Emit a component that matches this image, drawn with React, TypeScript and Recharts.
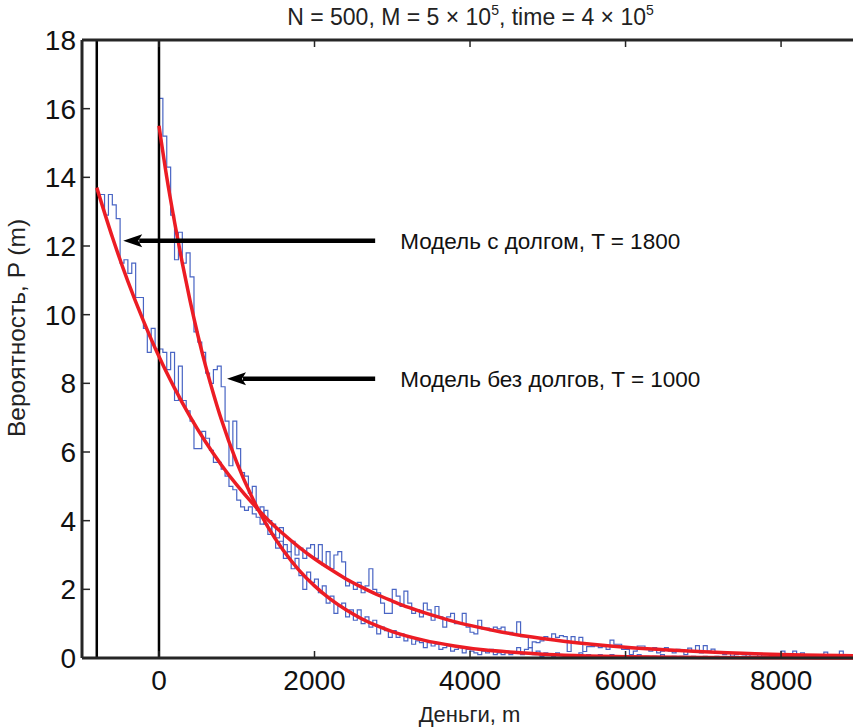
import React from "react";
import { ComposedChart, Line, XAxis, YAxis, ReferenceLine } from "recharts";

const WIDTH = 853;
const HEIGHT = 728;
const FONT = '"Liberation Sans", Arial, Helvetica, sans-serif';
const FRAME = "#262626";
const HIST_COLOR = "#4965c4";
const FIT_COLOR = "#ec1c24";

const X_TICKS = [0, 2000, 4000, 6000, 8000];
const Y_TICKS = [0, 2, 4, 6, 8, 10, 12, 14, 16, 18];

// histogram bins, 50 wide
const BIN_WIDTH = 50;
const DEBT_START = -800;
const FREE_START = 0;

// with debt (starts at -800)
const HIST_DEBT = [
  13.5, 13.5, 12.9, 13.5, 13.2, 12.8, 11.5, 11.6, 11.2, 11.5, 10.5, 10.5, 9.6, 8.9, 9.6, 9.0, 9.0, 8.9, 8.4, 8.9,
  7.5, 8.5, 7.5, 7.2, 6.9, 6.1, 6.1, 6.6, 6.4, 6.05, 5.7, 5.7, 5.5, 5.3, 5.0, 4.9, 4.6, 4.4, 4.3, 4.4,
  4.2, 4.1, 3.9, 4.3, 4.0, 3.6, 3.5, 3.8, 3.3, 3.1, 3.4, 3.0, 3.2, 2.9, 3.2, 3.3, 2.9, 3.3, 2.7, 3.1,
  2.6, 3.0, 3.1, 2.8, 2.1, 2.2, 2.0, 2.2, 1.9, 2.1, 2.6, 2.0, 1.9, 1.6, 1.3, 1.3, 2.0, 1.8, 1.5, 1.95,
  1.6, 1.3, 1.4, 1.2, 1.6, 1.4, 1.1, 1.5, 1.2, 0.9, 1.2, 1.3, 1.0, 1.0, 1.3, 0.9, 0.75, 0.7, 1.1, 0.85,
  0.87, 0.8, 0.9, 0.85, 0.9, 0.72, 0.75, 0.7, 1.05, 0.62, 0.62, 0.3, 0.47, 0.45, 0.5, 0.62, 0.55, 0.7, 0.6, 0.65,
  0.62, 0.19, 0.62, 0.45, 0.6, 0.19, 0.33, 0.33, 0.35, 0.3, 0.33, 0.25, 0.52, 0.4, 0.4, 0.25, 0.25, 0.1, 0.2, 0.35,
  0.35, 0.25, 0.2, 0.3, 0.15, 0.2, 0.3, 0.2, 0.15, 0.25, 0.2, 0.1, 0.29, 0.2, 0.36, 0.15, 0.36, 0.2, 0.26, 0.15,
  0.15, 0.1, 0.15, 0.05, 0.1, 0.15, 0.1, 0.05, 0.1, 0.1, 0.05, 0.1, 0.1, 0.05, 0.1, 0.08, 0.2, 0.1, 0.05, 0.2,
  0.1, 0.15, 0.05, 0.1, 0.05, 0.1, 0.08, 0.17, 0.05, 0.1, 0.05, 0.2, 0.1, 0.05, 0.1, 0.05,
];

// without debt (starts at 0)
const HIST_FREE = [
  16.3, 15.2, 14.3, 12.9, 11.6, 12.4, 11.5, 11.8, 11.1, 9.5, 9.2, 8.9, 8.3, 8.0, 8.4, 8.5, 7.9, 6.9, 5.6, 6.9,
  6.1, 5.4, 5.3, 4.8, 5.0, 4.3, 4.4, 3.9, 3.6, 3.9, 3.2, 3.4, 2.9, 3.1, 2.6, 2.9, 2.4, 2.0, 2.5, 2.2,
  2.3, 1.9, 2.1, 1.6, 1.8, 1.3, 1.5, 1.6, 1.2, 1.4, 1.1, 1.4, 1.0, 1.2, 0.9, 1.1, 0.7, 0.9, 0.8, 0.6,
  0.8, 0.6, 0.7, 0.5, 0.6, 0.4, 0.5, 0.45, 0.3, 0.45, 0.35, 0.4, 0.25, 0.3, 0.35, 0.2, 0.25, 0.3, 0.15, 0.25,
  0.2, 0.15, 0.1, 0.2, 0.15, 0.25, 0.1, 0.15, 0.1, 0.2, 0.1, 0.15, 0.3, 0.1, 0.25, 0.3, 0.1, 0.2, 0.05, 0.15,
  0.1, 0.05, 0.15, 0.1, 0.0, 0.1, 0.05, 0.1, 0.15, 0.05, 0.1, 0.0, 0.05, 0.1, 0.05, 0.0, 0.1, 0.05, 0.0, 0.05,
  0.05, 0.0, 0.05, 0.1, 0.0, 0.05, 0.0, 0.05, 0.0, 0.1, 0.0, 0.0, 0.05, 0.0, 0.05, 0.0, 0.0, 0.05, 0.0, 0.0,
  0.05, 0.0, 0.0, 0.05, 0.0, 0.0, 0.0, 0.05, 0.0, 0.0, 0.05, 0.0, 0.0, 0.0, 0.0, 0.05, 0.0, 0.0, 0.0, 0.0,
  0.0, 0.05, 0.0, 0.0, 0.0, 0.0, 0.0, 0.05, 0.0, 0.0, 0.0, 0.0, 0.0, 0.05, 0.0, 0.0, 0.0, 0.0, 0.0, 0.0,
];

// fitted curves
const FIT_DEBT_M = [
  -800, -600, -400, -200, 0, 200, 400, 600, 800, 1000, 1200, 1400, 1600, 1800, 2000, 2200, 2400, 2600,
  2800, 3000, 3200, 3400, 3600, 3800, 4000, 4400, 4800, 5200, 5600, 6000, 6500, 7000, 7500, 8000, 8500, 9000,
];
const FIT_DEBT_P = [
  13.7, 12.26, 10.97, 9.82, 8.78, 7.86, 7.03, 6.29, 5.63, 5.04, 4.51, 4.03, 3.61, 3.23, 2.89, 2.59, 2.31, 2.07,
  1.85, 1.66, 1.48, 1.33, 1.19, 1.06, 0.95, 0.76, 0.61, 0.49, 0.39, 0.31, 0.24, 0.18, 0.14, 0.1, 0.08, 0.06,
];
const FIT_FREE_M = [
  0, 100, 200, 300, 400, 500, 600, 700, 800, 1000, 1200, 1400, 1600, 1800, 2000, 2200, 2400, 2600, 2800, 3000,
  3400, 3800, 4200, 4600, 5000, 5500, 6000, 7000, 8000, 9000,
];
const FIT_FREE_P = [
  15.5, 14.0, 12.7, 11.5, 10.4, 9.4, 8.5, 7.7, 6.96, 5.7, 4.67, 3.82, 3.13, 2.56, 2.1, 1.72, 1.41, 1.15, 0.94, 0.77,
  0.52, 0.35, 0.23, 0.16, 0.1, 0.06, 0.04, 0.014, 0.005, 0.002,
];

// vertical walls: debt limit and zero
const WALLS = [-800, 0];

// arrows with labels
const ARROW_LABELS = ["Модель с долгом, T = 1800", "Модель без долгов, T = 1000"];
const ARROW_TAIL_M = [2780, 2780];
const ARROW_HEAD_M = [-460, 875];
const ARROW_P = [12.15, 8.13];

const toSteps = (start: number, values: number[]) => {
  const rows = values.map((p, i) => ({ m: start + i * BIN_WIDTH, p }));
  rows.push({ m: start + values.length * BIN_WIDTH, p: values[values.length - 1] });
  return rows;
};
const toRows = (ms: number[], ps: number[]) => ms.map((m, i) => ({ m, p: ps[i] }));

const debtSteps = toSteps(DEBT_START, HIST_DEBT);
const freeSteps = toSteps(FREE_START, HIST_FREE);
const debtFit = toRows(FIT_DEBT_M, FIT_DEBT_P);
const freeFit = toRows(FIT_FREE_M, FIT_FREE_P);

const BottomTick = ({ x, y, payload }: any) => (
  <g>
    <line x1={x} x2={x} y1={y} y2={y - 7} stroke={FRAME} strokeWidth={1.5} />
    <text x={x} y={y + 32} textAnchor="middle" fontSize={28} fontFamily={FONT} fill="#111">
      {payload.value}
    </text>
  </g>
);
const TopTick = ({ x, y }: any) => (
  <line x1={x} x2={x} y1={y} y2={y + 7} stroke={FRAME} strokeWidth={1.5} />
);
const LeftTick = ({ x, y, payload }: any) => (
  <g>
    <line x1={x} x2={x + 8} y1={y} y2={y} stroke={FRAME} strokeWidth={1.5} />
    <text x={x - 6} y={y + 10} textAnchor="end" fontSize={28} fontFamily={FONT} fill="#111">
      {payload.value}
    </text>
  </g>
);
const RightTick = ({ x, y }: any) => (
  <line x1={x} x2={x - 8} y1={y} y2={y} stroke={FRAME} strokeWidth={1.5} />
);

const Title = ({ viewBox }: any) => (
  <text x={viewBox.x + viewBox.width / 2 + 3} y={25} textAnchor="middle" fontSize={23} fontFamily={FONT} fill="#222">
    N = 500, M = 5 × 10<tspan fontSize={14} dy={-10}>5</tspan>
    <tspan dy={10}>, time = 4 × 10</tspan>
    <tspan fontSize={14} dy={-10}>5</tspan>
  </text>
);
const XTitle = ({ viewBox }: any) => (
  <text x={viewBox.x + viewBox.width / 2 + 2} y={722} textAnchor="middle" fontSize={22} fontFamily={FONT} fill="#222">
    Деньги, m
  </text>
);
const YTitle = () => (
  <text
    x={25}
    y={328}
    transform="rotate(-90 25 328)"
    textAnchor="middle"
    fontSize={24.5}
    fontFamily={FONT}
    fill="#222"
  >
    Вероятность, P (m)
  </text>
);

const arrowShape = (label: string) => (props: any) => {
  const { x1, y1, x2, y2 } = props;
  const len = 19;
  const half = 6.5;
  return (
    <g>
      <line x1={x1} y1={y1} x2={x2 + len - 3} y2={y2} stroke="#000" strokeWidth={4.5} />
      <polygon
        points={`${x2},${y2} ${x2 + len},${y2 - half} ${x2 + len - 4},${y2} ${x2 + len},${y2 + half}`}
        fill="#000"
      />
      <text x={x1 + 25} y={y1 + 8} fontSize={22.5} fontFamily={FONT} fill="#111">
        {label}
      </text>
    </g>
  );
};

export default function App() {
  return (
    <div style={{ position: "absolute", left: 0, top: 0, width: WIDTH, height: HEIGHT, background: "#fff" }}>
      <ComposedChart width={WIDTH} height={HEIGHT} margin={{ top: 0, right: 0, bottom: 0, left: 0 }}>
        <XAxis
          xAxisId="b"
          type="number"
          dataKey="m"
          domain={[-990, 8925]}
          allowDataOverflow
          ticks={X_TICKS}
          interval={0}
          orientation="bottom"
          height={70}
          tickSize={0}
          tickMargin={0}
          tickLine={false}
          tick={<BottomTick />}
          axisLine={{ stroke: FRAME, strokeWidth: 3 }}
          label={<XTitle />}
        />
        <XAxis
          xAxisId="t"
          type="number"
          dataKey="m"
          domain={[-990, 8925]}
          allowDataOverflow
          ticks={X_TICKS}
          interval={0}
          orientation="top"
          height={40}
          tickSize={0}
          tickMargin={0}
          tickLine={false}
          tick={<TopTick />}
          axisLine={{ stroke: FRAME, strokeWidth: 3 }}
          label={<Title />}
        />
        <YAxis
          yAxisId="l"
          type="number"
          domain={[0, 18]}
          ticks={Y_TICKS}
          interval={0}
          width={82}
          tickSize={0}
          tickMargin={0}
          tickLine={false}
          tick={<LeftTick />}
          axisLine={{ stroke: FRAME, strokeWidth: 3 }}
          label={<YTitle />}
        />
        <YAxis
          yAxisId="r"
          orientation="right"
          type="number"
          domain={[0, 18]}
          ticks={Y_TICKS}
          interval={0}
          width={0}
          tickSize={0}
          tickMargin={0}
          tickLine={false}
          tick={<RightTick />}
          axisLine={{ stroke: FRAME, strokeWidth: 3 }}
        />

        <Line
          xAxisId="b"
          yAxisId="l"
          data={debtSteps}
          dataKey="p"
          type="stepAfter"
          stroke={HIST_COLOR}
          strokeWidth={1.2}
          dot={false}
          isAnimationActive={false}
        />
        <Line
          xAxisId="b"
          yAxisId="l"
          data={freeSteps}
          dataKey="p"
          type="stepAfter"
          stroke={HIST_COLOR}
          strokeWidth={1.2}
          dot={false}
          isAnimationActive={false}
        />

        {WALLS.map((w) => (
          <ReferenceLine key={w} xAxisId="b" yAxisId="l" x={w} stroke="#000" strokeWidth={2.5} />
        ))}

        <Line
          xAxisId="b"
          yAxisId="l"
          data={debtFit}
          dataKey="p"
          type="monotone"
          stroke={FIT_COLOR}
          strokeWidth={3.5}
          dot={false}
          isAnimationActive={false}
        />
        <Line
          xAxisId="b"
          yAxisId="l"
          data={freeFit}
          dataKey="p"
          type="monotone"
          stroke={FIT_COLOR}
          strokeWidth={3.5}
          dot={false}
          isAnimationActive={false}
        />

        {ARROW_LABELS.map((label, i) => (
          <ReferenceLine
            key={label}
            xAxisId="b"
            yAxisId="l"
            segment={[
              { x: ARROW_TAIL_M[i], y: ARROW_P[i] },
              { x: ARROW_HEAD_M[i], y: ARROW_P[i] },
            ]}
            shape={arrowShape(label)}
          />
        ))}
      </ComposedChart>
    </div>
  );
}
